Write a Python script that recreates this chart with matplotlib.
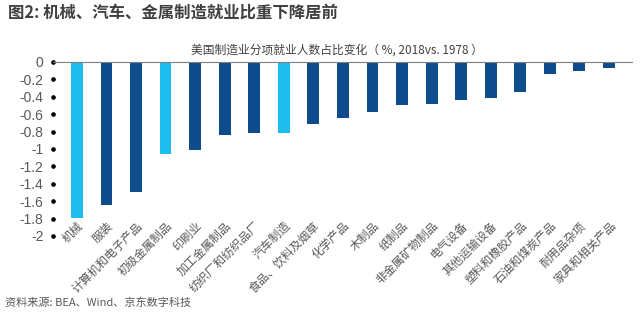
import matplotlib
matplotlib.use("Agg")
from matplotlib import pyplot as plt

plt.rcParams["font.family"] = ["Noto Sans CJK SC", "DejaVu Sans"]
plt.rcParams["axes.unicode_minus"] = False

categories = [
    "机械", "服装", "计算机和电子产品", "初级金属制品", "印刷业",
    "加工金属制品", "纺织厂和纺织品厂", "汽车制造", "食品、饮料及烟草",
    "化学产品", "木制品", "纸制品", "非金属矿物制品", "电气设备",
    "其他运输设备", "塑料和橡胶产品", "石油和煤炭产品", "耐用品杂项",
    "家具和相关产品",
]
values = [
    -1.79, -1.64, -1.49, -1.06, -1.01,
    -0.84, -0.82, -0.82, -0.71,
    -0.64, -0.57, -0.50, -0.48, -0.44,
    -0.42, -0.34, -0.14, -0.10,
    -0.07,
]
highlight = ["机械", "初级金属制品", "汽车制造"]
y_ticks = [0, -0.2, -0.4, -0.6, -0.8, -1, -1.2, -1.4, -1.6, -1.8, -2]
y_tick_labels = ["0", "-0.2", "-0.4", "-0.6", "-0.8", "-1", "-1.2", "-1.4", "-1.6", "-1.8", "-2"]

light = "#1DBDF0"
dark = "#0E4C8E"
grey = "#595959"

fig = plt.figure(figsize=(6.41, 3.21), dpi=100)
ax = fig.add_axes([0.083, 0.265, 0.903, 0.542])

colors = [light if c in highlight else dark for c in categories]
ax.bar(range(len(categories)), values, width=0.4, color=colors, zorder=2)

ax.set_xlim(-0.8, len(categories) - 0.22)
ax.set_ylim(-2, 0)

for s in ["left", "right", "bottom"]:
    ax.spines[s].set_visible(False)
ax.spines["top"].set_color("#7f7f7f")
ax.spines["top"].set_linewidth(0.8)

# y ticks drawn as dots
ax.set_yticks(y_ticks)
ax.set_yticklabels(y_tick_labels, family="Liberation Sans", fontsize=10, color=grey)
ax.tick_params(axis="y", length=0, pad=7)
for t in ax.yaxis.get_major_ticks():
    t.tick1line.set_marker("o")
    t.tick1line.set_markersize(2.5)
    t.tick1line.set_color("black")
    t.tick1line.set_visible(True)

ax.set_xticks(range(len(categories)))
ax.set_xticklabels(categories, rotation=45, ha="right", va="top",
                   rotation_mode="anchor", fontsize=8.5, color=grey)
ax.tick_params(axis="x", length=0, pad=-12)

ax.set_title("美国制造业分项就业人数占比变化（ %, 2018vs. 1978 ）",
             fontsize=8.5, color="#404040", pad=6, x=0.49)

fig.text(0.012, 0.962, "图2: 机械、汽车、金属制造就业比重下降居前",
         fontsize=11.8, fontweight="bold", color="#404040", va="center")
fig.text(0.008, 0.058, "资料来源: BEA、Wind、京东数字科技",
         fontsize=8, color=grey, va="center", style="italic")

fig.savefig("out.png", dpi=100)
